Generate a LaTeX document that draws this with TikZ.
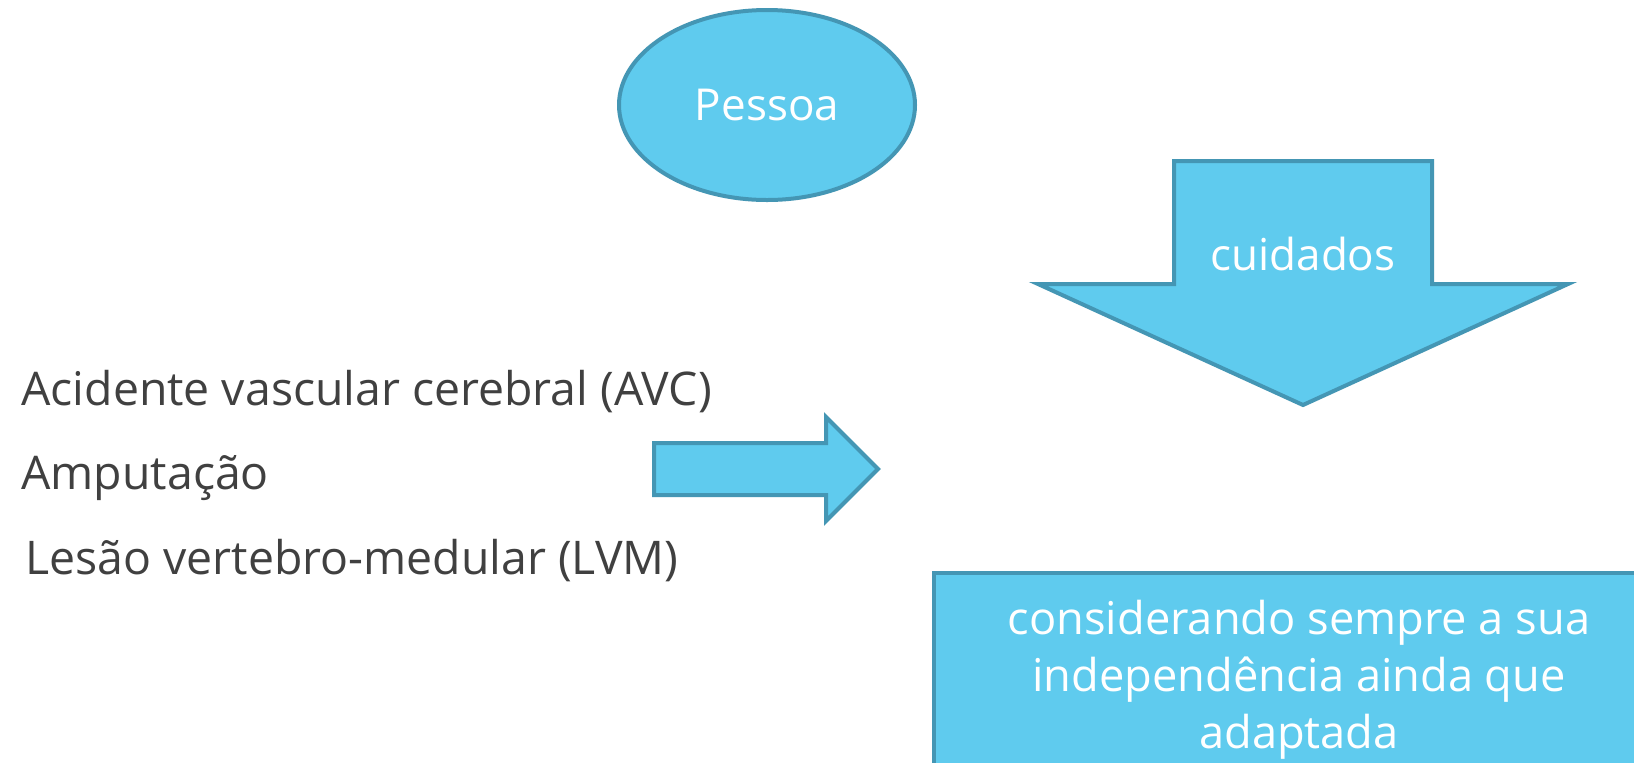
\documentclass[tikz,border=0pt]{standalone}
\usepackage{fontspec}
\setmainfont{Open Sans}
\usetikzlibrary{shapes.geometric}
\definecolor{fillblue}{HTML}{5FCBEE}
\definecolor{edgeblue}{HTML}{4496B4}
\definecolor{txtgray}{HTML}{404040}
\begin{document}
\begin{tikzpicture}[x=0.5pt,y=-0.5pt,
  shapestyle/.style={fill=fillblue,draw=edgeblue,line width=2pt,line join=miter},
  whitetext/.style={text=white,font=\fontsize{22}{28.5}\selectfont},
  graytext/.style={text=txtgray,font=\fontsize{23.2}{26}\selectfont,anchor=base west,inner sep=0pt}]
\clip (0,0) rectangle (1634,762);
\fill[white] (0,0) rectangle (1634,762);
% ellipse
\node[ellipse,shapestyle,minimum width=148pt,minimum height=95pt,inner sep=0pt,whitetext] (pessoa) at (767,105) {Pessoa};
% down arrow
\draw[shapestyle] (1174,161) coordinate (dA) -- (1432,161) -- (1432,284) -- (1568,284) -- (1303,405) coordinate (dTip) -- (1038,284) -- (1174,284) -- cycle;
\node[whitetext,inner sep=0pt] (cuidados) at (1303,254) {cuidados};
% right arrow
\draw[shapestyle] (654,443) -- (826,443) -- (826,417) -- (878,469) coordinate (rTip) -- (826,521) -- (826,495) -- (654,495) -- cycle;
% box
\draw[shapestyle] (934,573) rectangle (1720,820);
\node[whitetext,font=\fontsize{22.6}{28.5}\selectfont,align=center,inner sep=0pt,anchor=base] (box) at (1299,748) {considerando sempre a sua\\independência ainda que\\adaptada};
% left text
\node[graytext] (avc) at (21,405) {Acidente vascular cerebral (AVC)};
\node[graytext] (amp) at (21,489) {Amputação};
\node[graytext] (lvm) at (25,574) {Lesão vertebro-medular (LVM)};
\end{tikzpicture}
\end{document}
